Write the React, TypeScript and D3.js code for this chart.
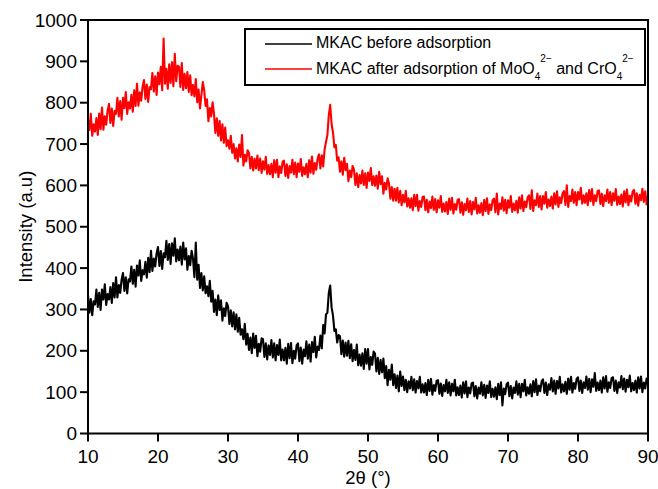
import React from 'react';
import * as d3 from 'd3';

// 2θ sampling: 10° to 90° every 0.2°
const angles: number[] = d3.range(0, 401).map((i) => 10 + i * 0.2);

// MKAC before adsorption (black), 5 readings per degree
const before: number[] = [
  335, 292, 325, 286, 320, 312, 348, 306, 340, 299, 348, 324, 361, 311, 337, 324, 354, 316, 364, 329,
  378, 329, 359, 340, 372, 388, 345, 378, 339, 373, 368, 404, 362, 396, 355, 406, 382, 419, 369, 395,
  385, 415, 377, 425, 390, 442, 393, 423, 404, 436, 451, 405, 441, 398, 436, 426, 466, 420, 458, 410,
  460, 430, 472, 416, 445, 419, 452, 408, 462, 421, 448, 396, 429, 407, 442, 423, 378, 462, 372, 408,
  352, 388, 346, 380, 339, 356, 332, 369, 319, 345, 294, 324, 286, 334, 299, 322, 273, 303, 284, 316,
  308, 265, 298, 259, 293, 252, 288, 246, 280, 239, 252, 228, 265, 215, 241, 202, 232, 194, 242, 207,
  236, 187, 217, 198, 230, 228, 185, 218, 179, 213, 190, 226, 184, 218, 177, 214, 190, 227, 177, 203,
  177, 207, 169, 217, 182, 219, 170, 200, 181, 213, 218, 175, 208, 169, 203, 187, 223, 181, 215, 174,
  221, 197, 234, 184, 210, 202, 237, 206, 262, 242, 288, 292, 340, 358, 305, 285, 248, 252, 220, 238,
  235, 192, 225, 186, 220, 188, 224, 182, 216, 175, 202, 178, 215, 165, 191, 164, 194, 156, 204, 169,
  204, 155, 185, 166, 198, 193, 150, 183, 144, 178, 148, 181, 134, 163, 117, 154, 130, 167, 117, 143,
  110, 140, 102, 150, 115, 138, 105, 130, 100, 126, 109, 137, 105, 131, 99, 127, 109, 137, 99, 119,
  99, 122, 93, 130, 103, 132, 94, 117, 103, 127, 129, 96, 121, 91, 117, 102, 130, 98, 124, 92,
  120, 102, 130, 92, 112, 93, 116, 87, 124, 97, 126, 88, 111, 97, 121, 123, 90, 115, 85, 111,
  96, 124, 92, 118, 86, 116, 98, 126, 88, 108, 89, 112, 83, 120, 93, 124, 68, 109, 95, 119,
  123, 90, 115, 85, 111, 98, 126, 94, 120, 88, 120, 102, 130, 92, 112, 96, 119, 90, 127, 100,
  131, 93, 116, 102, 126, 131, 98, 123, 93, 119, 106, 134, 102, 128, 96, 127, 109, 137, 99, 119,
  102, 125, 96, 133, 106, 137, 99, 122, 108, 132, 136, 103, 128, 98, 124, 110, 138, 106, 132, 100,
  131, 113, 146, 103, 123, 105, 128, 99, 136, 109, 139, 101, 124, 110, 134, 136, 103, 128, 98, 124,
  111, 139, 107, 133, 101, 130, 112, 140, 102, 122, 105, 128, 99, 136, 109, 138, 100, 123, 109, 133,
  120,
];

// MKAC after adsorption of MoO4 2− and CrO4 2− (red)
const after: number[] = [
  759, 734, 773, 720, 748, 730, 763, 722, 774, 736, 788, 735, 767, 747, 781, 797, 751, 786, 744, 780,
  773, 812, 767, 804, 759, 812, 787, 826, 773, 801, 786, 819, 778, 830, 792, 846, 793, 825, 805, 839,
  855, 809, 844, 802, 838, 833, 872, 827, 864, 819, 873, 845, 887, 830, 955, 846, 882, 834, 893, 848,
  898, 840, 918, 852, 889, 887, 838, 896, 831, 870, 835, 874, 826, 866, 818, 843, 815, 857, 801, 832,
  786, 819, 850, 830, 792, 808, 755, 787, 767, 801, 773, 727, 762, 720, 756, 709, 748, 703, 740, 695,
  709, 689, 720, 679, 700, 665, 690, 658, 699, 669, 722, 648, 674, 658, 685, 678, 641, 669, 636, 665,
  641, 672, 637, 665, 630, 658, 638, 669, 628, 649, 627, 652, 620, 661, 631, 662, 620, 646, 630, 657,
  660, 623, 651, 618, 647, 631, 662, 627, 655, 620, 653, 633, 664, 623, 644, 627, 652, 620, 661, 631,
  670, 628, 654, 638, 665, 675, 641, 673, 646, 687, 705, 722, 770, 795, 748, 728, 692, 698, 660, 668,
  633, 658, 626, 667, 637, 652, 610, 636, 620, 647, 638, 601, 629, 596, 625, 605, 636, 601, 629, 594,
  631, 611, 642, 601, 622, 599, 624, 592, 633, 603, 622, 580, 606, 590, 617, 605, 568, 596, 563, 592,
  563, 594, 559, 587, 552, 577, 559, 587, 549, 569, 546, 569, 540, 577, 550, 577, 539, 562, 548, 572,
  573, 540, 565, 535, 561, 545, 573, 541, 567, 535, 564, 546, 574, 536, 556, 537, 560, 531, 568, 541,
  570, 532, 555, 541, 565, 567, 534, 559, 529, 555, 540, 568, 536, 562, 530, 560, 542, 570, 532, 552,
  534, 557, 528, 565, 538, 569, 531, 554, 540, 564, 568, 535, 580, 530, 556, 543, 571, 539, 565, 533,
  564, 546, 574, 536, 556, 540, 563, 534, 571, 544, 576, 538, 561, 547, 571, 576, 543, 588, 538, 564,
  552, 580, 548, 574, 542, 574, 556, 584, 546, 566, 550, 573, 544, 581, 554, 586, 548, 571, 557, 581,
  586, 553, 600, 548, 574, 562, 590, 558, 584, 552, 584, 566, 594, 556, 576, 558, 581, 552, 589, 562,
  591, 553, 576, 562, 586, 588, 555, 580, 550, 576, 562, 590, 558, 584, 552, 581, 563, 591, 553, 573,
  555, 578, 549, 586, 559, 590, 552, 575, 561, 585, 589, 556, 581, 551, 577, 564, 592, 560, 586, 554,
  575,
];

const xTicks: number[] = [10, 20, 30, 40, 50, 60, 70, 80, 90];
const yTicks: number[] = [0, 100, 200, 300, 400, 500, 600, 700, 800, 900, 1000];

const FONT = "'Liberation Sans', Arial, Helvetica, sans-serif";

export default function App() {
  const W = 658;
  const H = 489;
  const L = 88, T = 20, R = 648, B = 433.5;
  const x = d3.scaleLinear().domain([10, 90]).range([L, R]);
  const y = d3.scaleLinear().domain([0, 1000]).range([B, T]);
  const mk = (vals: number[]) =>
    d3.line<number>()
      .x((_, i) => x(angles[i]))
      .y((d) => y(d))(vals) || '';

  return (
    <svg width={W} height={H} style={{ position: 'absolute', left: 0, top: 0, background: '#fff' }}
      fontFamily={FONT}>
      <rect x={0} y={0} width={W} height={H} fill="#fff" />
      <path d={mk(before)} fill="none" stroke="#000" strokeWidth={2.1} strokeLinejoin="round" />
      <path d={mk(after)} fill="none" stroke="#ff0000" strokeWidth={2.1} strokeLinejoin="round" />

      {/* frame */}
      <rect x={L} y={T} width={R - L} height={B - T} fill="none" stroke="#000" strokeWidth={2} />

      {/* y axis ticks */}
      {yTicks.map((t) => (
        <g key={'y' + t}>
          <line x1={L - 8} x2={L} y1={y(t)} y2={y(t)} stroke="#000" strokeWidth={2} />
          <text x={L - 11} y={y(t)} dy="0.35em" textAnchor="end" fontSize={19} fill="#000">{t}</text>
        </g>
      ))}
      {/* x axis ticks */}
      {xTicks.map((t) => (
        <g key={'x' + t}>
          <line x1={x(t)} x2={x(t)} y1={B} y2={B + 8} stroke="#000" strokeWidth={2} />
          <text x={x(t)} y={462.5} textAnchor="middle" fontSize={19} fill="#000">{t}</text>
        </g>
      ))}

      <text x={(L + R) / 2} y={484} textAnchor="middle" fontSize={18.5} fill="#000">2θ (°)</text>
      <text transform={`translate(31.5, ${(T + B) / 2}) rotate(-90)`} textAnchor="middle" fontSize={18.5} fill="#000">
        Intensity (a.u)
      </text>

      {/* legend */}
      <rect x={245} y={29} width={400} height={56} fill="#fff" stroke="#000" strokeWidth={2} />
      <line x1={265} x2={312} y1={44} y2={44} stroke="#000" strokeWidth={1.6} />
      <line x1={265} x2={312} y1={69} y2={69} stroke="#ff0000" strokeWidth={1.6} />
      <text x={316} y={48.3} fontSize={16} fill="#000">MKAC before adsorption</text>
      <text x={316} y={74} fontSize={16} fill="#000">
        MKAC after adsorption of MoO
        <tspan fontSize={10} dy={5.5}>4</tspan>
        <tspan fontSize={10} dy={-17.5}>2−</tspan>
        <tspan dy={12}> and CrO</tspan>
        <tspan fontSize={10} dy={5.5}>4</tspan>
        <tspan fontSize={10} dy={-17.5}>2−</tspan>
      </text>
    </svg>
  );
}
